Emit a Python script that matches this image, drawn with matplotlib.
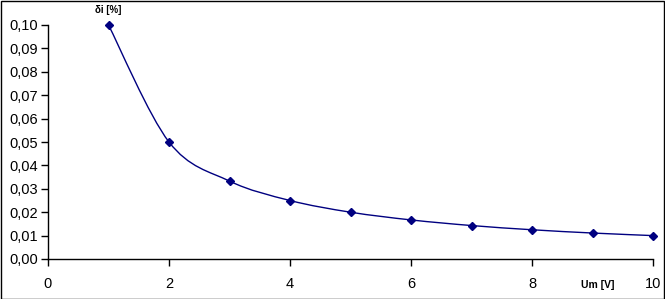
import numpy as np
import matplotlib.pyplot as plt
from matplotlib.path import Path
from matplotlib.patches import PathPatch, Rectangle
from matplotlib.ticker import FuncFormatter

plt.rcParams['font.family'] = ['Liberation Sans', 'DejaVu Sans']

um = [1, 2, 3, 4, 5, 6, 7, 8, 9, 10]
di = [0.100, 0.050, 0.0333, 0.025, 0.020, 0.0167, 0.0143, 0.0125, 0.0111, 0.010]
x_ticks = [0, 2, 4, 6, 8, 10]
y_ticks = [0.00, 0.01, 0.02, 0.03, 0.04, 0.05, 0.06, 0.07, 0.08, 0.09, 0.10]


def smooth_path(x, y):
    """
    bezier path through the points, like a spreadsheet smoothed line
    """
    pts = np.column_stack([x, y]).astype(float)
    verts = [pts[0]]
    codes = [Path.MOVETO]
    n = len(pts)
    for i in range(n - 1):
        p0 = pts[i - 1] if i > 0 else pts[i]
        p1 = pts[i]
        p2 = pts[i + 1]
        p3 = pts[i + 2] if i + 2 < n else pts[i + 1]
        c1 = p1 + (p2 - p0) / 6
        c2 = p2 - (p3 - p1) / 6
        verts += [c1, c2, p2]
        codes += [Path.CURVE4] * 3
    return Path(verts, codes)


fig = plt.figure(figsize=(6.65, 2.99), dpi=100)
ax = fig.add_axes([48 / 665, 1 - 259 / 299, 605 / 665, 234 / 299])

navy = '#000080'
ax.add_patch(PathPatch(smooth_path(um, di), fill=False, edgecolor=navy, lw=1.0, clip_on=False))
ax.plot(um, di, linestyle='none', marker='D', ms=4.5, color=navy, clip_on=False, zorder=3)

ax.set_xlim(0, 10)
ax.set_ylim(0, 0.10)
ax.set_xticks(x_ticks)
ax.set_yticks(y_ticks)
ax.yaxis.set_major_formatter(FuncFormatter(lambda v, p: f"{v:.2f}".replace('.', ',')))
ax.spines['top'].set_visible(False)
ax.spines['right'].set_visible(False)
for s in ['left', 'bottom']:
    ax.spines[s].set_linewidth(1.0)
ax.tick_params(direction='out', length=5, width=1, labelsize=10.5, colors='black')
ax.tick_params(axis='x', pad=8)
ax.tick_params(axis='y', pad=2)

fig.text(108 / 665, 1 - 10 / 299, 'δi [%]', fontsize=7, fontweight='bold', ha='center', va='center')
fig.text(598 / 665, 1 - 285 / 299, 'Um [V]', fontsize=7.5, fontweight='bold', ha='center', va='center')

fig.patches.append(Rectangle((0.5 / 665, 0.5 / 299), 663.5 / 665, 297.5 / 299, transform=fig.transFigure,
                             fill=False, edgecolor='black', lw=1.0))

fig.savefig('out.png', dpi=100)
